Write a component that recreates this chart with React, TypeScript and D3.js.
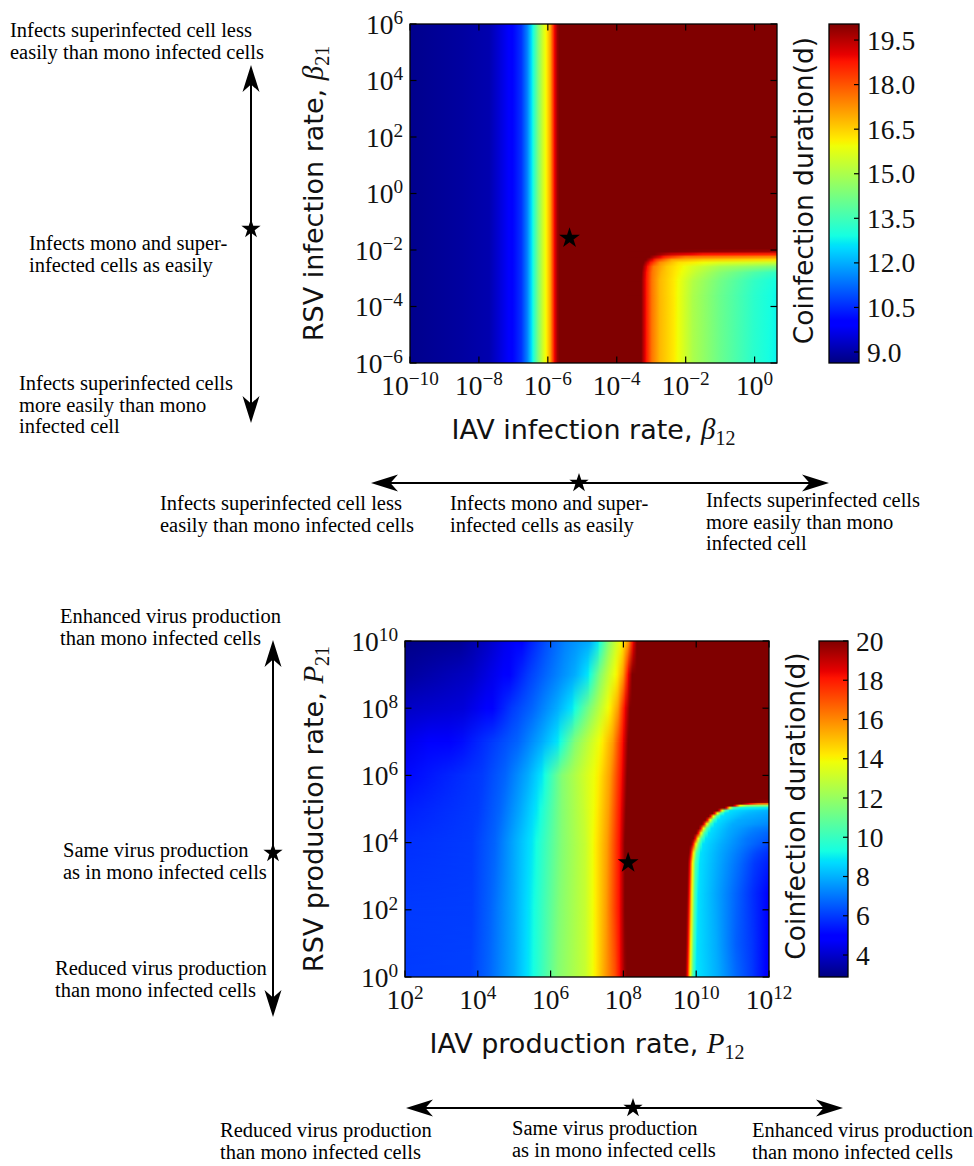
import React from "react";
import * as d3 from "d3";

type Stop = [number, number]; // [log10 of x-axis value, coinfection duration (d)]
type Row = { y: number; p: Stop[] }; // y = log10 of y-axis value

// ================= Panel A: infection rates =================
const topXTickExps = [-10, -8, -6, -4, -2, 0];
const topYTickExps = [-6, -4, -2, 0, 2, 4, 6];
const topXExpDomain: [number, number] = [-10, 0.65];
const topYExpDomain: [number, number] = [-6, 6];
const topColorDomain: [number, number] = [8.63, 20.04];
const topColorTicks = [9.0, 10.5, 12.0, 13.5, 15.0, 16.5, 18.0, 19.5];

// duration along beta12 (same for every beta21 row)
const topBaseProfile: Stop[] = [
  [-10, 8.75], [-8.5, 8.95], [-7.7, 9.1], [-7.4, 9.5], [-7.12, 9.9], [-6.95, 10.2],
  [-6.77, 10.6], [-6.6, 11.5], [-6.5, 12.3], [-6.4, 13.2], [-6.28, 14.4], [-6.14, 15.5],
  [-6.03, 16.2], [-5.93, 17.0], [-5.81, 18.9], [-5.72, 19.8], [-5.66, 20.05], [0.65, 20.05],
];
// lower-right region (large beta12, small beta21)
const topCornerXExp: [number, number] = [-3.7, 0.65];
const topCornerYExp: [number, number] = [-6, -1.9];
const topCornerRows: Row[] = [
  { y: -1.95, p: [[-3.7, 20.05], [0.65, 20.05]] },
  { y: -2.05, p: [[-3.7, 20.05], [-2.6, 20.05], [-1.5, 19.9], [0.65, 19.7]] },
  { y: -2.15, p: [[-3.7, 20.05], [-2.9, 20.05], [-2.4, 19.3], [-1.5, 18.8], [0.65, 18.6]] },
  { y: -2.25, p: [[-3.7, 20.05], [-3.05, 20.05], [-2.6, 18.6], [-2.0, 17.6], [0.65, 17.3]] },
  { y: -2.35, p: [[-3.7, 20.05], [-3.15, 20.05], [-2.85, 18.4], [-2.4, 17.0], [-1.5, 16.6], [0.65, 16.3]] },
  { y: -2.45, p: [[-3.7, 20.05], [-3.22, 20.05], [-3.02, 18.7], [-2.75, 17.3], [-2.2, 16.3], [-1.0, 15.7], [0.65, 15.4]] },
  { y: -2.6, p: [[-3.7, 20.05], [-3.26, 20.05], [-3.1, 18.7], [-2.93, 17.5], [-2.55, 16.6], [-1.8, 15.6], [-1.0, 14.9], [0.65, 14.3]] },
  { y: -2.8, p: [[-3.7, 20.05], [-3.28, 20.05], [-3.14, 18.8], [-2.97, 17.6], [-2.7, 16.8], [-2.3, 16.2], [-1.7, 15.3], [-1.0, 14.5], [0, 13.7], [0.65, 13.3]] },
  { y: -3.1, p: [[-3.7, 20.05], [-3.29, 20.05], [-3.15, 18.8], [-2.98, 17.6], [-2.75, 16.8], [-2.35, 16.2], [-1.79, 15.1], [-1.0, 14.2], [0, 13.3], [0.65, 12.9]] },
  { y: -3.6, p: [[-3.7, 20.05], [-3.29, 20.05], [-3.15, 18.8], [-2.98, 17.6], [-2.75, 16.8], [-2.35, 16.2], [-1.79, 15.0], [-1.0, 14.1], [0, 13.2], [0.65, 12.8]] },
  { y: -6, p: [[-3.7, 20.05], [-3.29, 20.05], [-3.15, 18.8], [-2.98, 17.6], [-2.75, 16.8], [-2.35, 16.2], [-1.79, 15.0], [-1.0, 14.1], [-0.04, 13.2], [0.65, 12.75]] },
];
const topStar: [number, number] = [-5.37, -1.58];

// ================= Panel B: production rates =================
const botXTickExps = [2, 4, 6, 8, 10, 12];
const botYTickExps = [0, 2, 4, 6, 8, 10];
const botXExpDomain: [number, number] = [2, 12];
const botYExpDomain: [number, number] = [0, 10];
const botColorDomain: [number, number] = [2.88, 20];
const botColorTicks = [4, 6, 8, 10, 12, 14, 16, 18, 20];

const botMainRows: Row[] = [
  { y: 10, p: [[2, 3.0], [3.5, 3.2], [4.28, 3.9], [4.75, 4.5], [5.1, 4.8], [5.49, 5.6], [5.85, 6.3], [6.4, 7.2], [7.08, 7.9], [7.3, 8.9], [7.58, 11.6], [7.78, 13.0], [7.96, 14.1], [8.13, 15.6], [8.26, 18.3], [8.37, 20], [12, 20]] },
  { y: 9, p: [[2, 3.3], [3.84, 3.9], [4.75, 4.8], [5.38, 6.0], [5.85, 6.7], [6.67, 7.9], [7.03, 8.9], [7.36, 11.6], [7.6, 13.0], [7.82, 14.1], [7.99, 15.6], [8.13, 18.3], [8.24, 20], [12, 20]] },
  { y: 8, p: [[2, 3.9], [3.6, 4.2], [4.28, 4.8], [4.94, 6.0], [5.49, 6.7], [6.18, 7.9], [6.59, 8.9], [7.08, 11.5], [7.4, 13.0], [7.63, 14.1], [7.85, 15.6], [8.04, 18.3], [8.18, 20], [12, 20]] },
  { y: 7, p: [[2, 4.45], [3.57, 5.2], [4.39, 6.0], [5.1, 6.7], [5.76, 7.9], [6.2, 8.9], [6.67, 11.6], [7.08, 13.0], [7.41, 14.1], [7.71, 15.6], [7.99, 18.3], [8.13, 20], [12, 20]] },
  { y: 6, p: [[2, 5.1], [4.12, 6.0], [4.75, 6.7], [5.38, 7.9], [5.76, 8.9], [6.31, 11.6], [6.86, 13.0], [7.3, 14.1], [7.63, 15.6], [7.96, 18.3], [8.1, 20], [12, 20]] },
  { y: 5, p: [[2, 5.5], [4.0, 6.0], [4.6, 6.7], [5.2, 7.9], [5.62, 8.9], [6.31, 11.6], [6.9, 13.0], [7.26, 14.1], [7.59, 15.6], [7.93, 18.3], [8.07, 20], [12, 20]] },
  { y: 4, p: [[2, 5.8], [3.84, 6.0], [4.47, 6.7], [5.02, 7.9], [5.49, 8.9], [6.31, 11.6], [6.95, 13.0], [7.22, 14.1], [7.55, 15.6], [7.91, 18.3], [8.04, 20], [12, 20]] },
  { y: 2, p: [[2, 6.0], [3.84, 6.05], [4.35, 6.7], [5.0, 7.9], [5.42, 8.9], [6.25, 11.6], [6.95, 13.0], [7.22, 14.1], [7.52, 15.6], [7.9, 18.3], [8.04, 20], [12, 20]] },
  { y: 0, p: [[2, 6.0], [3.8, 6.1], [4.3, 6.7], [5.0, 7.9], [5.4, 8.9], [5.65, 9.7], [6.2, 11.6], [6.95, 13.0], [7.22, 14.1], [7.5, 15.6], [7.77, 17.0], [7.91, 18.3], [8.04, 19.7], [8.1, 20], [12, 20]] },
];
// lower-right region (large P12, small P21)
const botBlobXExp: [number, number] = [9.5, 12];
const botBlobYExp: [number, number] = [0, 5.4];
const botBlobRows: Row[] = [
  { y: 5.3, p: [[9.5, 20], [12, 20]] },
  { y: 5.2, p: [[9.5, 20], [11.6, 20], [12, 19.6]] },
  { y: 5.15, p: [[9.5, 20], [11.25, 20], [11.45, 18.3], [11.7, 16.5], [12, 16.0]] },
  { y: 5.1, p: [[9.5, 20], [11.0, 20], [11.08, 18.3], [11.2, 14.1], [11.4, 12.0], [12, 11.5]] },
  { y: 5.03, p: [[9.5, 20], [10.78, 20], [10.84, 18.3], [10.92, 14.1], [11.02, 10.5], [11.2, 9.2], [12, 8.9]] },
  { y: 4.95, p: [[9.5, 20], [10.58, 20], [10.64, 18.3], [10.71, 14.1], [10.8, 10.5], [10.92, 8.8], [11.5, 8.3], [12, 8.0]] },
  { y: 4.87, p: [[9.5, 20], [10.45, 20], [10.51, 18.3], [10.58, 14.1], [10.67, 10.5], [10.79, 8.8], [11.4, 8.1], [12, 7.8]] },
  { y: 4.78, p: [[9.5, 20], [10.34, 20], [10.4, 18.3], [10.47, 14.1], [10.56, 10.5], [10.68, 8.8], [11.3, 8.0], [12, 7.65]] },
  { y: 4.67, p: [[9.5, 20], [10.25, 20], [10.31, 18.3], [10.38, 14.1], [10.47, 10.5], [10.59, 8.8], [11.15, 7.9], [12, 7.5]] },
  { y: 4.55, p: [[9.5, 20], [10.16, 20], [10.22, 18.3], [10.29, 14.1], [10.38, 10.5], [10.5, 8.8], [11.0, 7.9], [12, 7.3]] },
  { y: 4.42, p: [[9.5, 20], [10.07, 20], [10.13, 18.3], [10.2, 14.1], [10.29, 10.5], [10.41, 8.8], [10.9, 7.9], [11.6, 7.2], [12, 7.0]] },
  { y: 4.28, p: [[9.5, 20], [10.0, 20], [10.06, 18.3], [10.13, 14.1], [10.22, 10.5], [10.34, 8.8], [10.85, 7.9], [11.5, 7.1], [12, 6.7]] },
  { y: 4.12, p: [[9.5, 20], [9.92, 20], [9.98, 18.3], [10.05, 14.1], [10.14, 10.5], [10.26, 8.8], [10.78, 7.9], [11.4, 7.0], [12, 6.5]] },
  { y: 3.95, p: [[9.5, 20], [9.86, 20], [9.92, 18.3], [9.99, 14.1], [10.08, 10.5], [10.18, 8.8], [10.7, 7.9], [11.34, 7.0], [12, 6.2]] },
  { y: 3.7, p: [[9.5, 20], [9.8, 20], [9.86, 18.3], [9.93, 14.1], [10.01, 10.5], [10.12, 8.8], [10.62, 7.9], [11.25, 6.9], [11.65, 6.2], [12, 5.8]] },
  { y: 3.4, p: [[9.5, 20], [9.77, 20], [9.83, 18.3], [9.9, 14.1], [9.98, 10.5], [10.09, 8.8], [10.58, 7.9], [11.2, 6.8], [11.6, 6.0], [12, 5.5]] },
  { y: 2.5, p: [[9.5, 20], [9.75, 20], [9.81, 18.3], [9.88, 14.1], [9.96, 10.5], [10.05, 8.8], [10.5, 7.9], [11.1, 6.7], [11.55, 5.8], [12, 5.0]] },
  { y: 1.0, p: [[9.5, 20], [9.72, 20], [9.78, 18.3], [9.85, 14.1], [9.93, 10.5], [10.02, 8.8], [10.55, 7.9], [11.1, 6.6], [11.55, 5.9], [12, 4.9]] },
  { y: 0, p: [[9.5, 20], [9.7, 20], [9.76, 18.3], [9.83, 14.1], [9.91, 10.5], [9.99, 8.9], [10.6, 7.9], [11.1, 6.8], [11.53, 6.0], [12, 4.8]] },
];
const botStar: [number, number] = [8.13, 3.4];

// ================= Annotation texts =================
const infLess = ["Infects superinfected cell less", "easily than mono infected cells"];
const infSame = ["Infects mono and super-", "infected cells as easily"];
const infMore = ["Infects superinfected cells", "more easily than mono", "infected cell"];
const prodEnh = ["Enhanced virus production", "than mono infected cells"];
const prodSame = ["Same virus production", "as in mono infected cells"];
const prodRed = ["Reduced virus production", "than mono infected cells"];

// ================= jet colormap =================
const JET_BREAKS = [0, 0.11, 0.125, 0.34, 0.35, 0.375, 0.64, 0.65, 0.66, 0.89, 0.91, 1];
const jetR = d3.scaleLinear<number>().domain([0, 0.35, 0.66, 0.89, 1]).range([0, 0, 1, 1, 0.5]).clamp(true);
const jetG = d3.scaleLinear<number>().domain([0, 0.125, 0.375, 0.64, 0.91, 1]).range([0, 0, 1, 1, 0, 0]).clamp(true);
const jetB = d3.scaleLinear<number>().domain([0, 0.11, 0.34, 0.65, 1]).range([0.5, 1, 1, 0, 0]).clamp(true);
function jet(t: number) {
  return d3.rgb(Math.round(255 * jetR(t)), Math.round(255 * jetG(t)), Math.round(255 * jetB(t))).formatHex();
}

function gradientStops(profile: Stop[], x: (v: number) => number, L: number, R: number, norm: (v: number) => number) {
  const stops: { o: number; c: string }[] = [];
  profile.forEach(([e, v], i) => {
    const px = x(10 ** e);
    const t = norm(v);
    if (i > 0) {
      const [pe, pv] = profile[i - 1];
      const ppx = x(10 ** pe);
      const pt = norm(pv);
      JET_BREAKS.filter((b) => (b - pt) * (b - t) < 0)
        .map((b) => ({ f: (b - pt) / (t - pt), b }))
        .sort((a, b) => a.f - b.f)
        .forEach(({ f, b }) => stops.push({ o: (ppx + f * (px - ppx) - L) / (R - L), c: jet(b) }));
    }
    stops.push({ o: (px - L) / (R - L), c: jet(t) });
  });
  return stops.map((s) => ({ ...s, o: Math.min(1, Math.max(0, s.o)) }));
}

function HeatLayer({ id, rows, xScale, yScale, xExp, yExp, norm }: any) {
  const L = xScale(10 ** xExp[0]);
  const R = xScale(10 ** xExp[1]);
  const top = yScale(10 ** yExp[1]);
  const bottom = yScale(10 ** yExp[0]);
  const sorted: Row[] = [...rows].sort((a: Row, b: Row) => b.y - a.y);
  const cs = sorted.map((r) => yScale(10 ** r.y));
  const W = R - L;
  const els: any[] = [];
  if (cs[0] > top) els.push(<rect key="t" x={L} y={top} width={W} height={cs[0] - top + 0.6} fill={`url(#${id}-0)`} />);
  for (let i = 0; i < sorted.length - 1; i++) {
    const y0 = cs[i], y1 = cs[i + 1];
    els.push(<rect key={`b${i}`} x={L} y={y0 - 0.6} width={W} height={y1 - y0 + 1.2} fill={`url(#${id}-${i})`} />);
    els.push(<rect key={`o${i}`} x={L} y={y0} width={W} height={y1 - y0} fill={`url(#${id}-${i + 1})`} mask="url(#fadeMask)" />);
  }
  const last = cs[cs.length - 1];
  if (bottom > last) els.push(<rect key="e" x={L} y={last - 0.6} width={W} height={bottom - last + 0.6} fill={`url(#${id}-${sorted.length - 1})`} />);
  return (
    <g>
      <defs>
        {sorted.map((r, i) => (
          <linearGradient key={i} id={`${id}-${i}`} gradientUnits="userSpaceOnUse" x1={L} y1={0} x2={R} y2={0}>
            {gradientStops(r.p, xScale, L, R, norm).map((s, k) => (
              <stop key={k} offset={s.o} stopColor={s.c} />
            ))}
          </linearGradient>
        ))}
      </defs>
      {els}
    </g>
  );
}

const SERIF = "'Liberation Serif', 'Times New Roman', serif";
const SANS = "'DejaVu Sans', 'Bitstream Vera Sans', sans-serif";

function Pow({ e }: { e: number }) {
  return (
    <>
      {"10"}
      <tspan fontSize="0.7em" dy="-0.5em">{e < 0 ? `\u2212${-e}` : `${e}`}</tspan>
    </>
  );
}

function Panel(props: any) {
  const { id, plot, cb, xExp, yExp, xTicks, yTicks, layers, colorDomain, colorTicks, tickFmt, xName, yName, sym, xSub, ySub, star } = props;
  const xScale = d3.scaleLog().domain([10 ** xExp[0], 10 ** xExp[1]]).range([plot.left, plot.right]);
  const yScale = d3.scaleLog().domain([10 ** yExp[0], 10 ** yExp[1]]).range([plot.bottom, plot.top]);
  const norm = d3.scaleLinear().domain(colorDomain).range([0, 1]).clamp(true);
  const cScale = d3.scaleLinear().domain(colorDomain).range([plot.bottom, plot.top]);
  const TL = 6.5;
  const starPath = d3.symbol(d3.symbolStar, 135)() as string;
  const cx = (plot.left + plot.right) / 2;
  const cy = (plot.top + plot.bottom) / 2;
  return (
    <g>
      <defs>
        <clipPath id={`${id}-clip`}>
          <rect x={plot.left} y={plot.top} width={plot.right - plot.left} height={plot.bottom - plot.top} />
        </clipPath>
        <linearGradient id={`${id}-cb`} x1="0" y1="1" x2="0" y2="0">
          {JET_BREAKS.map((b, i) => (
            <stop key={i} offset={b} stopColor={jet(b)} />
          ))}
        </linearGradient>
      </defs>
      <g clipPath={`url(#${id}-clip)`}>
        {layers.map((ly: any, i: number) => (
          <HeatLayer key={i} id={`${id}-L${i}`} rows={ly.rows} xExp={ly.xExp} yExp={ly.yExp} xScale={xScale} yScale={yScale} norm={norm} />
        ))}
      </g>
      {/* star */}
      <path d={starPath} transform={`translate(${xScale(10 ** star[0])},${yScale(10 ** star[1])})`} fill="#000" />
      {/* ticks */}
      {xTicks.map((e: number) => {
        const x = xScale(10 ** e);
        return (
          <g key={`xt${e}`}>
            <line x1={x} x2={x} y1={plot.bottom} y2={plot.bottom - TL} stroke="#000" strokeWidth={1.2} />
            <line x1={x} x2={x} y1={plot.top} y2={plot.top + TL} stroke="#000" strokeWidth={1.2} />
            <text x={x} y={plot.bottom + 32} textAnchor="middle" fontFamily={SERIF} fontSize={27.5} fill="#111">
              <Pow e={e} />
            </text>
          </g>
        );
      })}
      {yTicks.map((e: number) => {
        const y = yScale(10 ** e);
        return (
          <g key={`yt${e}`}>
            <line x1={plot.left} x2={plot.left + TL} y1={y} y2={y} stroke="#000" strokeWidth={1.2} />
            <line x1={plot.right} x2={plot.right - TL} y1={y} y2={y} stroke="#000" strokeWidth={1.2} />
            <text x={plot.left - 7} y={y + 9.5} textAnchor="end" fontFamily={SERIF} fontSize={27.5} fill="#111">
              <Pow e={e} />
            </text>
          </g>
        );
      })}
      <rect x={plot.left} y={plot.top} width={plot.right - plot.left} height={plot.bottom - plot.top} fill="none" stroke="#000" strokeWidth={1.3} />
      {/* axis labels */}
      <text x={cx} y={plot.bottom + 76} textAnchor="middle" fontFamily={SANS} fontSize={27} fill="#111">
        {xName}
        <tspan fontFamily={SERIF} fontStyle="italic" fontSize={29}>{sym}</tspan>
        <tspan fontFamily={SERIF} fontSize={20} dy={6}>{xSub}</tspan>
      </text>
      <text transform={`translate(${props.yLabelX},${cy}) rotate(-90)`} textAnchor="middle" fontFamily={SANS} fontSize={27} fill="#111">
        {yName}
        <tspan fontFamily={SERIF} fontStyle="italic" fontSize={29}>{sym}</tspan>
        <tspan fontFamily={SERIF} fontSize={20} dy={6}>{ySub}</tspan>
      </text>
      {/* colorbar */}
      <rect x={cb.left} y={plot.top} width={cb.right - cb.left} height={plot.bottom - plot.top} fill={`url(#${id}-cb)`} />
      {colorTicks.map((v: number) => {
        const y = cScale(v);
        return (
          <g key={`ct${v}`}>
            <line x1={cb.right - 5} x2={cb.right} y1={y} y2={y} stroke="#000" strokeWidth={1.2} />
            <text x={cb.right + 8} y={y + 9.5} fontFamily={SERIF} fontSize={27.5} fill="#111">
              {tickFmt(v)}
            </text>
          </g>
        );
      })}
      <rect x={cb.left} y={plot.top} width={cb.right - cb.left} height={plot.bottom - plot.top} fill="none" stroke="#000" strokeWidth={1.3} />
      <text transform={`translate(${props.cbLabelX},${cy - 3}) rotate(-90)`} textAnchor="middle" fontFamily={SANS} fontSize={26.5} fill="#111">
        Coinfection duration(d)
      </text>
    </g>
  );
}

function headPath(tx: number, ty: number, dx: number, dy: number) {
  const L = 27, W = 17, N = 0.72 * L;
  const px = -dy, py = dx;
  const bx = tx - dx * L, by = ty - dy * L;
  const nx = tx - dx * N, ny = ty - dy * N;
  return `M${tx},${ty}L${bx + (px * W) / 2},${by + (py * W) / 2}L${nx},${ny}L${bx - (px * W) / 2},${by - (py * W) / 2}Z`;
}

function Arrow({ x1, y1, x2, y2, sx, sy }: any) {
  const len = Math.hypot(x2 - x1, y2 - y1);
  const dx = (x2 - x1) / len, dy = (y2 - y1) / len;
  const starPath = d3.symbol(d3.symbolStar, 115)() as string;
  return (
    <g>
      <line x1={x1 + dx * 10} y1={y1 + dy * 10} x2={x2 - dx * 10} y2={y2 - dy * 10} stroke="#000" strokeWidth={2} />
      <path d={headPath(x2, y2, dx, dy)} fill="#000" />
      <path d={headPath(x1, y1, -dx, -dy)} fill="#000" />
      <path d={starPath} transform={`translate(${sx},${sy})`} fill="#000" />
    </g>
  );
}

function Lines({ x, y, lines, lh = 21.5 }: any) {
  return (
    <text x={x} y={y} fontFamily={SERIF} fontSize={20.5} fill="#000">
      {lines.map((l: string, i: number) => (
        <tspan key={i} x={x} dy={i ? lh : 0}>
          {l}
        </tspan>
      ))}
    </text>
  );
}

export default function App() {
  const fmt1 = d3.format(".1f");
  const fmt0 = d3.format("d");
  return (
    <svg width={974} height={1166} style={{ position: "absolute", left: 0, top: 0 }} xmlns="http://www.w3.org/2000/svg">
      <defs>
        <linearGradient id="fadeGrad" x1="0" y1="0" x2="0" y2="1">
          <stop offset="0" stopColor="#fff" stopOpacity={0} />
          <stop offset="1" stopColor="#fff" stopOpacity={1} />
        </linearGradient>
        <mask id="fadeMask" maskContentUnits="objectBoundingBox" style={{ maskType: "alpha" } as any}>
          <rect x={0} y={0} width={1} height={1} fill="url(#fadeGrad)" />
        </mask>
      </defs>
      <rect x={0} y={0} width={974} height={1166} fill="#fff" />

      <Panel
        id="pa"
        plot={{ left: 410, right: 777, top: 24, bottom: 363 }}
        cb={{ left: 829, right: 859 }}
        xExp={topXExpDomain}
        yExp={topYExpDomain}
        xTicks={topXTickExps}
        yTicks={topYTickExps}
        layers={[
          { rows: [{ y: topYExpDomain[1], p: topBaseProfile }], xExp: topXExpDomain, yExp: topYExpDomain },
          { rows: topCornerRows, xExp: topCornerXExp, yExp: topCornerYExp },
        ]}
        colorDomain={topColorDomain}
        colorTicks={topColorTicks}
        tickFmt={fmt1}
        xName="IAV infection rate, "
        yName="RSV infection rate, "
        sym={"\u03b2"}
        xSub="12"
        ySub="21"
        star={topStar}
        yLabelX={323}
        cbLabelX={813}
      />

      <Panel
        id="pb"
        plot={{ left: 405, right: 769, top: 641, bottom: 977 }}
        cb={{ left: 819, right: 848 }}
        xExp={botXExpDomain}
        yExp={botYExpDomain}
        xTicks={botXTickExps}
        yTicks={botYTickExps}
        layers={[
          { rows: botMainRows, xExp: botXExpDomain, yExp: botYExpDomain },
          { rows: botBlobRows, xExp: botBlobXExp, yExp: botBlobYExp },
        ]}
        colorDomain={botColorDomain}
        colorTicks={botColorTicks}
        tickFmt={fmt0}
        xName="IAV production rate, "
        yName="RSV production rate, "
        sym="P"
        xSub="12"
        ySub="21"
        star={botStar}
        yLabelX={323}
        cbLabelX={805}
      />

      {/* Panel A annotations */}
      <Arrow x1={251} y1={65} x2={251} y2={423} sx={251} sy={229} />
      <Lines x={10} y={37} lines={infLess} />
      <Lines x={29} y={250} lines={infSame} />
      <Lines x={19} y={390} lines={infMore} />

      <Arrow x1={371} y1={483} x2={829} y2={483} sx={579} sy={483} />
      <Lines x={160} y={510} lines={infLess} />
      <Lines x={450} y={510} lines={infSame} />
      <Lines x={706} y={507} lines={infMore} />

      {/* Panel B annotations */}
      <Arrow x1={273} y1={640} x2={273} y2={1017} sx={273} sy={853} />
      <Lines x={60} y={623} lines={prodEnh} />
      <Lines x={63} y={857} lines={prodSame} />
      <Lines x={55} y={975} lines={prodRed} />

      <Arrow x1={406} y1={1108} x2={843} y2={1108} sx={633} sy={1108} />
      <Lines x={220} y={1137} lines={prodRed} />
      <Lines x={512} y={1135} lines={prodSame} />
      <Lines x={752} y={1137} lines={prodEnh} />
    </svg>
  );
}
